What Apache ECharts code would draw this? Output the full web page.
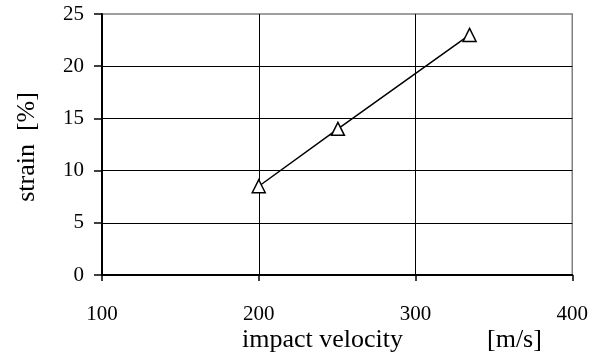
<!DOCTYPE html>
<html>
<head>
<meta charset="utf-8">
<script src="https://cdn.jsdelivr.net/npm/echarts@6/dist/echarts.min.js"></script>
<style>html,body{margin:0;padding:0;background:#fff;}#c{width:591px;height:363px;}</style>
</head>
<body>
<div id="c"></div>
<script>
const velocity = [200, 250.5, 334.5];
const strain = [8.5, 14, 23];
const xTicks = [100, 200, 300, 400];
const yTicks = [0, 5, 10, 15, 20, 25];
const xTitle = 'impact velocity';
const xUnit = '[m/s]';
const yTitle = 'strain  [%]';

const FONT = '"Liberation Serif", "Times New Roman", serif';
const chart = echarts.init(document.getElementById('c'), null, {renderer: 'canvas'});
chart.setOption({
  animation: false,
  backgroundColor: '#fff',
  grid: {left: 102, right: 18, top: 14, bottom: 88, containLabel: false,
         show: true, borderColor: '#808080', borderWidth: 1.5},
  xAxis: {
    type: 'value', min: xTicks[0], max: xTicks[xTicks.length - 1], interval: 100,
    axisLine: {show: true, onZero: false, lineStyle: {color: '#000', width: 2}},
    axisTick: {show: true, length: 6, lineStyle: {color: '#000', width: 1.5}},
    splitLine: {show: true, showMaxLine: false, lineStyle: {color: '#000', width: 1}},
    axisLabel: {margin: 29, color: '#000', fontFamily: FONT, fontSize: 21}
  },
  yAxis: {
    type: 'value', min: yTicks[0], max: yTicks[yTicks.length - 1], interval: 5,
    axisLine: {show: true, lineStyle: {color: '#000', width: 2}},
    axisTick: {show: true, length: 8, lineStyle: {color: '#000', width: 1.5}},
    splitLine: {show: true, showMaxLine: false, lineStyle: {color: '#000', width: 1}},
    axisLabel: {margin: 18, color: '#000', fontFamily: FONT, fontSize: 21}
  },
  graphic: [
    {type: 'text', left: 242, top: 327, style: {text: xTitle, font: '26px ' + FONT, fill: '#000'}},
    {type: 'text', left: 487, top: 327, style: {text: xUnit, font: '26px ' + FONT, fill: '#000'}},
    {type: 'text', x: 27, y: 147, rotation: Math.PI / 2,
     style: {text: yTitle, font: '26px ' + FONT, fill: '#000', align: 'center', verticalAlign: 'middle'}}
  ],
  series: [{
    type: 'line',
    data: velocity.map((v, i) => [v, strain[i]]),
    symbol: 'triangle', symbolSize: [13, 13],
    showAllSymbol: true,
    lineStyle: {color: '#000', width: 1.5},
    itemStyle: {color: '#fff', borderColor: '#000', borderWidth: 1.5}
  }]
});
</script>
</body>
</html>
